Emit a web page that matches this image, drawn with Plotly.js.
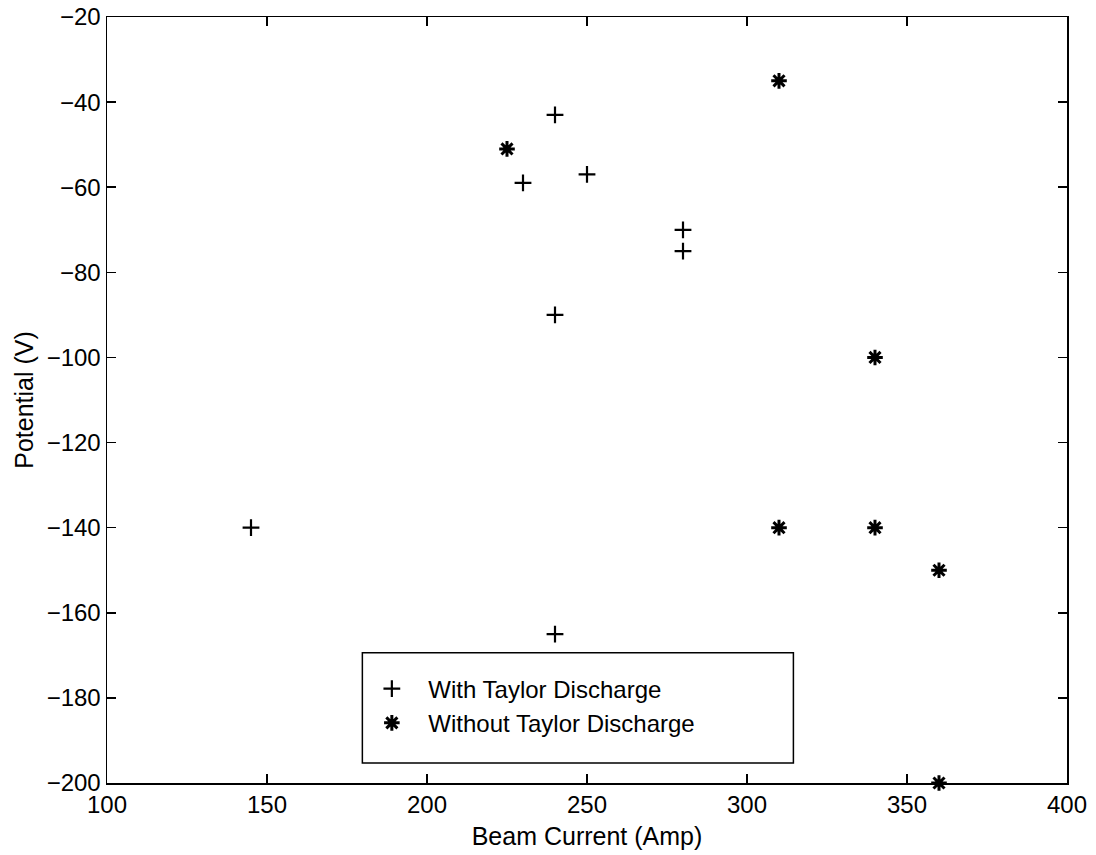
<!DOCTYPE html>
<html><head><meta charset="utf-8">
<script src="https://cdn.plot.ly/plotly-3.0.1.min.js"></script>
<style>body{margin:0;background:#fff}#chart{width:1096px;height:855px}</style>
</head><body><div id="chart"></div>
<script>
const withX = [145, 230, 240, 250, 240, 280, 280, 240];
const withY = [-140, -59, -43, -57, -90, -70, -75, -165];
const withoutX = [225, 310, 340, 310, 340, 360, 360];
const withoutY = [-51, -35, -100, -140, -140, -150, -200];
const seriesNames = ['With Taylor Discharge', 'Without Taylor Discharge'];
const xTicks = [100, 150, 200, 250, 300, 350, 400];
const yTicks = [-200, -180, -160, -140, -120, -100, -80, -60, -40, -20];

const font = {family: 'Liberation Sans, Arial, sans-serif', size: 24, color: '#000'};
const titleFont = {family: 'Liberation Sans, Arial, sans-serif', size: 25, color: '#000'};
const traces = [
  {x: withX, y: withY, mode: 'markers', type: 'scatter', name: seriesNames[0],
   marker: {symbol: 'cross-thin-open', size: 12, color: '#000', line: {color: '#000', width: 2.2}}},
  {x: withoutX, y: withoutY, mode: 'markers', type: 'scatter', name: seriesNames[1],
   marker: {symbol: 'asterisk-open', size: 13, color: '#000', line: {color: '#000', width: 3}}, cliponaxis: false}
];
const axisCommon = {showgrid: false, zeroline: false, showline: true, linecolor: '#000', linewidth: 1.5,
  mirror: 'allticks', ticks: 'inside', ticklen: 9, tickwidth: 1.5, tickcolor: '#000', tickfont: font};
const layout = {
  width: 1096, height: 855,
  margin: {l: 107, r: 29, t: 17, b: 72},
  paper_bgcolor: '#fff', plot_bgcolor: '#fff',
  font: font,
  showlegend: true,
  xaxis: Object.assign({}, axisCommon, {range: [100, 400], tickvals: xTicks,
    title: {text: 'Beam Current (Amp)', font: titleFont, standoff: 10}}),
  yaxis: Object.assign({}, axisCommon, {range: [-200, -20], tickvals: yTicks,
    title: {text: 'Potential (V)', font: titleFont, standoff: 6}}),
  legend: {x: 0.2587, y: 0.152, xanchor: 'left', yanchor: 'top', bgcolor: 'rgba(0,0,0,0)',
    borderwidth: 0, font: font, itemwidth: 63, tracegroupgap: 0},
  shapes: [{type: 'rect', xref: 'paper', yref: 'paper', x0: 0.266, x1: 0.715, y0: 0.026, y1: 0.17,
    line: {color: '#000', width: 1.5}, fillcolor: '#fff', layer: 'below'}]
};
Plotly.newPlot('chart', traces, layout, {displayModeBar: false, staticPlot: true});
</script></body></html>
